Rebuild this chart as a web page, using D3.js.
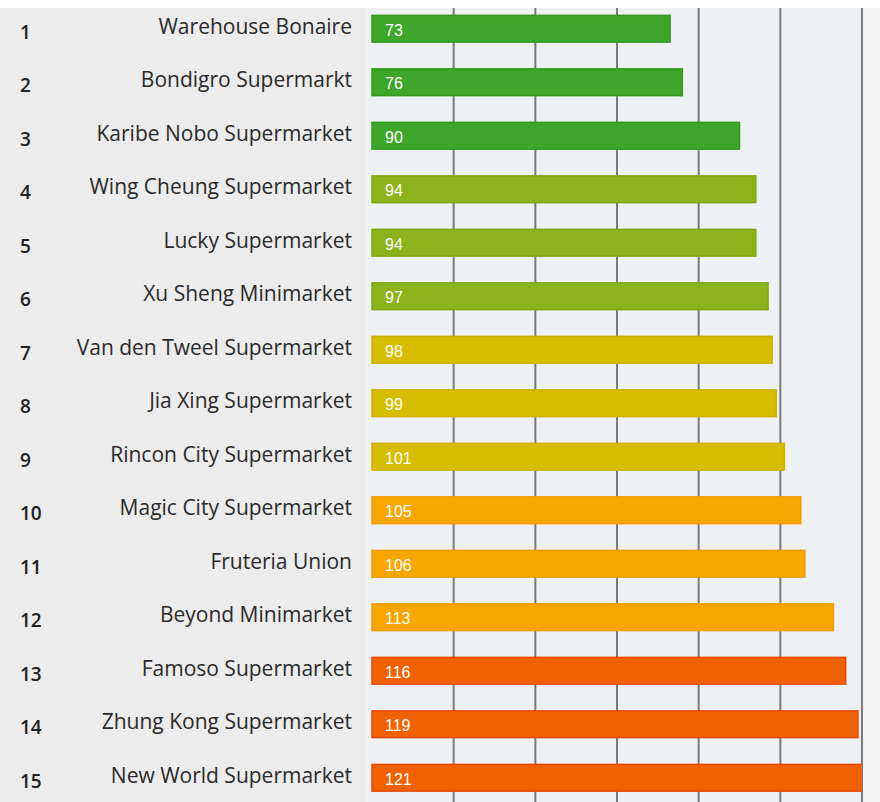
<!DOCTYPE html>
<meta charset="utf-8">
<head>
</head>
<body style="margin:0">
<style>
body { background: #fff; }
.rank { font: 600 19px "Open Sans", sans-serif; fill: #222; }
.name { font: 21px "Open Sans", sans-serif; fill: #2a2a2a; }
.val { font: 16px "Liberation Sans", Arial, sans-serif; fill: #fff; }
.grid line { stroke: #7a7a7a; stroke-width: 2px; }
</style>
<svg width="880" height="802"></svg>
<script src="https://d3js.org/d3.v7.min.js"></script>
<script>
var ranks = [1, 2, 3, 4, 5, 6, 7, 8, 9, 10, 11, 12, 13, 14, 15];
var names = ["Warehouse Bonaire", "Bondigro Supermarkt", "Karibe Nobo Supermarket",
  "Wing Cheung Supermarket", "Lucky Supermarket", "Xu Sheng Minimarket",
  "Van den Tweel Supermarket", "Jia Xing Supermarket", "Rincon City Supermarket",
  "Magic City Supermarket", "Fruteria Union", "Beyond Minimarket",
  "Famoso Supermarket", "Zhung Kong Supermarket", "New World Supermarket"];
var values = [73, 76, 90, 94, 94, 97, 98, 99, 101, 105, 106, 113, 116, 119, 121];
var gridTicks = [20, 40, 60, 80, 100, 120];
var groupColors = ["#3ea62a", "#8cb31b", "#d8bc00", "#f8a600", "#f06200"];
var groupEdges = ["#2f9a1c", "#7fa710", "#ccb000", "#f29a00", "#ea4800"];

var svg = d3.select("svg"),
  width = +svg.attr("width"),
  height = +svg.attr("height");

var plotLeft = 365, plotRight = 863, topY = 8;

var x = d3.scaleLinear().domain([0, 120]).range([372, 862]);
var y = d3.scaleBand().domain(ranks).range([2, 804.5]).paddingInner(0.5).paddingOuter(0.25);

// backgrounds
svg.append("rect").attr("x", 0).attr("y", topY).attr("width", plotLeft).attr("height", height - topY).attr("fill", "#ececec");
svg.append("rect").attr("x", plotLeft).attr("y", topY).attr("width", plotRight - plotLeft).attr("height", height - topY).attr("fill", "#eef1f3");
svg.append("rect").attr("x", plotRight).attr("y", topY).attr("width", width - plotRight).attr("height", height - topY).attr("fill", "#f4f4f4");

svg.append("clipPath").attr("id", "plotclip")
  .append("rect").attr("x", plotLeft).attr("y", 0).attr("width", x(120) - plotLeft).attr("height", height);

// gridlines
svg.append("g")
  .attr("class", "grid")
  .selectAll("line")
  .data(gridTicks)
  .enter().append("line")
  .attr("x1", function(d) { return x(d); })
  .attr("x2", function(d) { return x(d); })
  .attr("y1", topY)
  .attr("y2", height);

// bars
var rows = svg.append("g").attr("clip-path", "url(#plotclip)")
  .selectAll("g")
  .data(ranks)
  .enter().append("g");

rows.append("rect")
  .attr("x", x(0))
  .attr("y", function(d) { return y(d); })
  .attr("width", function(d, i) { return x(values[i]) - x(0); })
  .attr("height", y.bandwidth())
  .attr("fill", function(d, i) { return groupColors[Math.floor(i / 3)]; })
  .attr("stroke", function(d, i) { return groupEdges[Math.floor(i / 3)]; })
  .attr("stroke-width", 1.5);

rows.append("text")
  .attr("class", "val")
  .attr("x", x(0) + 13)
  .attr("y", function(d) { return y(d) + y.bandwidth() / 2 + 7; })
  .text(function(d, i) { return values[i]; });

// labels
svg.append("g").selectAll("text")
  .data(ranks)
  .enter().append("text")
  .attr("class", "rank")
  .attr("x", 20)
  .attr("y", function(d) { return y(d) + y.bandwidth() / 2 + 10; })
  .text(function(d) { return d; });

svg.append("g").selectAll("text")
  .data(ranks)
  .enter().append("text")
  .attr("class", "name")
  .attr("text-anchor", "end")
  .attr("x", 352)
  .attr("y", function(d) { return y(d) + y.bandwidth() / 2 + 5; })
  .text(function(d, i) { return names[i]; });
</script>
</body>
